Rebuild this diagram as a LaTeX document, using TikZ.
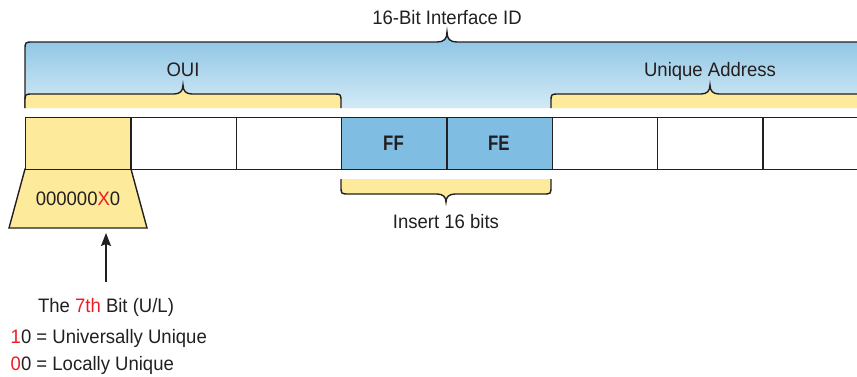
\documentclass[tikz,border=0pt]{standalone}
\usepackage{fontspec}
\setmainfont[FakeStretch=0.95]{Liberation Sans}
\newfontfamily\bcond[FakeStretch=0.8]{Liberation Sans}
\usetikzlibrary{arrows.meta}
\definecolor{ink}{HTML}{231F20}
\definecolor{ylw}{HTML}{FDEA9B}
\definecolor{cellblue}{HTML}{7FBDE2}
\definecolor{btop}{HTML}{89C2E3}
\definecolor{bbot}{HTML}{D3EAF5}
\definecolor{redtxt}{HTML}{ED1C24}
\begin{document}
\begin{tikzpicture}[x=1pt,y=-1pt,line width=1.4pt,
  lbl/.style={anchor=base,inner sep=0pt,text=ink,font=\fontsize{19.5}{22}\selectfont},
  cell/.style={draw=ink,rectangle,anchor=north west,minimum width=105.3pt,minimum height=52pt,inner sep=0pt},
  hexlbl/.style={anchor=base,inner sep=0pt,text=ink,font=\bcond\bfseries\fontsize{21}{24}\selectfont},
  brace/.style={draw=ink,line width=1.4pt}]
\clip (0,0) rectangle (857,376);
% top blue brace
\shade[top color=btop,bottom color=bbot] (25,108) -- (25,50) .. controls (25,42) .. (33,42) -- (437,42) .. controls (444,42) and (447,39) .. (447,32) .. controls (447,39) and (450,42) .. (457,42) -- (870,42) -- (870,108) -- cycle;
\draw[brace] (25,108) -- (25,50) .. controls (25,42) .. (33,42) -- (437,42) .. controls (444,42) and (447,39) .. (447,32) .. controls (447,39) and (450,42) .. (457,42) -- (870,42);
% OUI brace
\fill[ylw] (25,108) -- (25,102) .. controls (25,94) .. (33,94) -- (174,94) .. controls (180,94) and (183,91) .. (183,85) .. controls (183,91) and (186,94) .. (192,94) -- (333,94) .. controls (341,94) .. (341,102) -- (341,108) -- cycle;
\draw[brace] (25,108) -- (25,102) .. controls (25,94) .. (33,94) -- (174,94) .. controls (180,94) and (183,91) .. (183,85) .. controls (183,91) and (186,94) .. (192,94) -- (333,94) .. controls (341,94) .. (341,102) -- (341,108);
% Unique brace
\fill[ylw] (551,108) -- (551,102) .. controls (551,94) .. (559,94) -- (701,94) .. controls (707,94) and (710,91) .. (710,85) .. controls (710,91) and (713,94) .. (719,94) -- (870,94) -- (870,108) -- cycle;
\draw[brace] (551,108) -- (551,102) .. controls (551,94) .. (559,94) -- (701,94) .. controls (707,94) and (710,91) .. (710,85) .. controls (710,91) and (713,94) .. (719,94) -- (870,94);
% labels
\node[lbl] (title) at (447,24) {16-Bit Interface ID};
\node[lbl] (oui) at (183,76) {OUI};
\node[lbl] (ua) at (710,76) {Unique Address};
% trapezoid
\filldraw[fill=ylw,draw=ink] (25,169) -- (131,169) -- (147,228) -- (9,228) -- cycle;
\node[lbl] (bits) at (78,205) {000000\textcolor{redtxt}{X}0};
% cells
\node[cell,fill=ylw] (c1) at (25,117) {};
\node[cell] (c2) at (130.3,117) {};
\node[cell] (c3) at (235.6,117) {};
\node[cell,fill=cellblue] (c4) at (340.9,117) {};
\node[cell,fill=cellblue] (c5) at (446.2,117) {};
\node[cell] (c6) at (551.5,117) {};
\node[cell] (c7) at (656.8,117) {};
\node[cell] (c8) at (762.1,117) {};
\node[hexlbl] (ff) at (393.5,150) {FF};
\node[hexlbl] (fe) at (498.8,150) {FE};
% insert brace
\fill[ylw] (341,179) -- (341,186) .. controls (341,194) .. (349,194) -- (437,194) .. controls (443,194) and (446,197) .. (446,202) .. controls (446,197) and (449,194) .. (455,194) -- (543,194) .. controls (551,194) .. (551,186) -- (551,179) -- cycle;
\draw[brace] (341,179) -- (341,186) .. controls (341,194) .. (349,194) -- (437,194) .. controls (443,194) and (446,197) .. (446,202) .. controls (446,197) and (449,194) .. (455,194) -- (543,194) .. controls (551,194) .. (551,186) -- (551,179);
\node[lbl] (ins) at (446,228) {Insert 16 bits};
% arrow and notes
\coordinate (arrS) at (106,282);
\coordinate (arrE) at (106,233);
\draw[ink,line width=1.5pt,-{Stealth[length=13pt,width=10pt,inset=2pt]}] (arrS) -- (arrE);
\node[lbl] (bit) at (106,312) {The \textcolor{redtxt}{7th} Bit (U/L)};
\node[lbl,anchor=base west] (uu) at (10,343) {\textcolor{redtxt}{1}0 = Universally Unique};
\node[lbl,anchor=base west] (lu) at (10,370) {\textcolor{redtxt}{0}0 = Locally Unique};
\end{tikzpicture}
\end{document}
